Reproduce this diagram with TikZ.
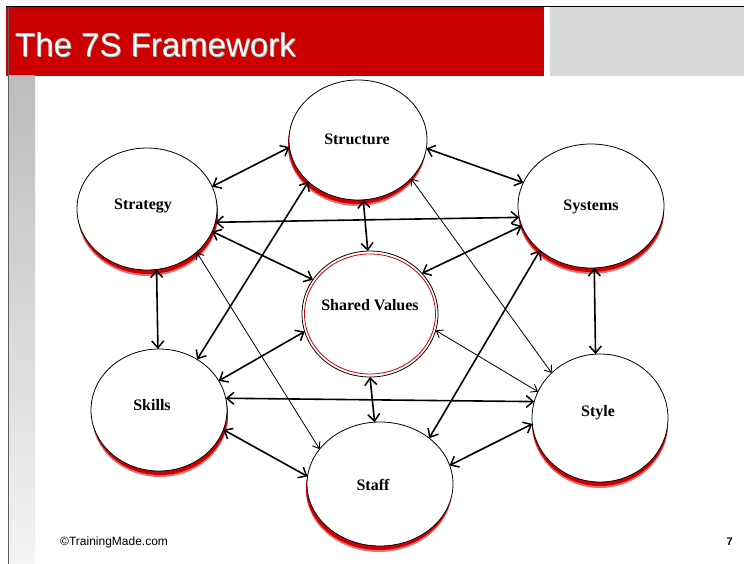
\documentclass[tikz,border=0pt]{standalone}
\usepackage{fontspec}
\setmainfont{Liberation Serif}
\newfontfamily\arialfont{Liberation Sans}
\usetikzlibrary{shapes.geometric,arrows.meta}
\definecolor{banner}{HTML}{CC0000}
\definecolor{panel}{HTML}{D8D8D8}
\definecolor{barTop}{HTML}{BCBCBC}
\definecolor{barBot}{HTML}{F4F4F4}
\definecolor{edge}{HTML}{5E5E5E}
\definecolor{glow}{HTML}{E27070}
\begin{document}
\begin{tikzpicture}[x=1pt,y=-1pt,
  ring/.style={ellipse, draw=black, line width=0.8pt, fill=white, inner sep=0pt, outer sep=0pt},
  lab/.style={font=\bfseries\fontsize{16}{18}\selectfont, inner sep=0pt},
  barb/.tip={Straight Barb[length=7pt,width=12pt,line width=1.5pt]},
  thinbarb/.tip={Straight Barb[length=6pt,width=9pt,line width=0.9pt]},
  link/.style={line width=1.6pt, barb-barb},
  thinlink/.style={line width=0.8pt, thinbarb-thinbarb},
]
\useasboundingbox (0,0) rectangle (744,564);
\fill[white] (0,0) rectangle (744,564);

% header band
\fill[banner] (6,7) rectangle (544,76);
\fill[panel] (550,7) rectangle (744,76);
\draw[black, line width=1.5pt] (6,6.5) -- (744,6.5);
\node[anchor=base west, inner sep=0pt, text=black!30, font=\arialfont\fontsize{33}{36}\selectfont]
  (titleshadow) at (15.8,57.8) {The 7S Framework};
\node[anchor=base west, inner sep=0pt, text=white, font=\arialfont\fontsize{33}{36}\selectfont]
  (title) at (15,57) {The 7S Framework};

% left side bar
\shade[top color=barTop, bottom color=barBot] (9,76) rectangle (35,564);
\draw[edge, line width=1pt] (8,7) -- (8,564);

% red drop shadows under the seven circles
\fill[glow] (357,146) ellipse [x radius=69pt, y radius=60pt];
\fill[banner] (357,144) ellipse [x radius=69pt, y radius=60pt];
\fill[glow] (148,215) ellipse [x radius=70pt, y radius=61pt];
\fill[banner] (148,213) ellipse [x radius=70pt, y radius=61pt];
\fill[glow] (591,212) ellipse [x radius=73pt, y radius=62pt];
\fill[banner] (591,210) ellipse [x radius=73pt, y radius=62pt];
\fill[glow] (160,416) ellipse [x radius=68pt, y radius=61pt];
\fill[banner] (160,414) ellipse [x radius=68pt, y radius=61pt];
\fill[glow] (379,490) ellipse [x radius=73pt, y radius=62pt];
\fill[banner] (379,488) ellipse [x radius=73pt, y radius=62pt];
\fill[glow] (600,424) ellipse [x radius=68pt, y radius=64pt];
\fill[banner] (600,422) ellipse [x radius=68pt, y radius=64pt];

% the seven elements
\node[ring, minimum width=138pt, minimum height=120pt] (structure) at (358,140) {};
\node[ring, minimum width=140pt, minimum height=122pt] (strategy) at (147,209) {};
\node[ring, minimum width=146pt, minimum height=124pt] (systems) at (591,206) {};
\node[ring, minimum width=136pt, minimum height=126pt] (shared) at (370,314) {};
\node[ring, minimum width=136pt, minimum height=122pt] (skills) at (159,410) {};
\node[ring, minimum width=146pt, minimum height=124pt] (staff) at (380,484) {};
\node[ring, minimum width=136pt, minimum height=128pt] (style) at (600,418) {};
\draw[banner, line width=0.8pt] (370,314) ellipse [x radius=65.5pt, y radius=60pt];

% labels
\node[lab] (structure-t) at (357,139) {Structure};
\node[lab] (strategy-t) at (143,206) {Strategy};
\node[lab] (systems-t) at (591,207) {Systems};
\node[lab] (shared-t) at (370,305) {Shared Values};
\node[lab] (skills-t) at (152,405) {Skills};
\node[lab] (staff-t) at (373,485) {Staff};
\node[lab] (style-t) at (598,413) {Style};

% links between the elements
\draw[link] (structure.186) -- (strategy.19);
\draw[link] (structure.353) -- (systems.161);
\draw[link] (structure.275) -- (shared.92);
\draw[link] (structure.220) -- (skills.53.5);
\draw[thinlink] (structure.324) -- (style.137.4);
\draw[link] (strategy.349.5) -- (systems.189.5);
\draw[link] (strategy.341.8) -- (shared.149.2);
\draw[link] (strategy.279.3) -- (skills.91.8);
\draw[thinlink] (strategy.319.3) -- (staff.150.7);
\draw[link] (systems.196.2) -- (shared.38.3);
\draw[link] (systems.273.7) -- (style.94.5);
\draw[link] (systems.221) -- (staff.43.1);
\draw[link] (shared.195) -- (skills.26.9);
\draw[thinlink] (shared.346.2) -- (style.157.6);
\draw[link] (shared.270) -- (staff.95.4);
\draw[link] (skills.10.8) -- (style.166.6);
\draw[link] (skills.343.8) -- (staff.174.7);
\draw[link] (staff.15.8) -- (style.185.7);

% footer
\node[anchor=base west, inner sep=0pt, font=\arialfont\fontsize{12}{14}\selectfont]
  (credit) at (60,545) {©TrainingMade.com};
\node[anchor=base east, inner sep=0pt, font=\arialfont\bfseries\fontsize{11}{13}\selectfont]
  (pagenum) at (733,545) {7};
\end{tikzpicture}
\end{document}
